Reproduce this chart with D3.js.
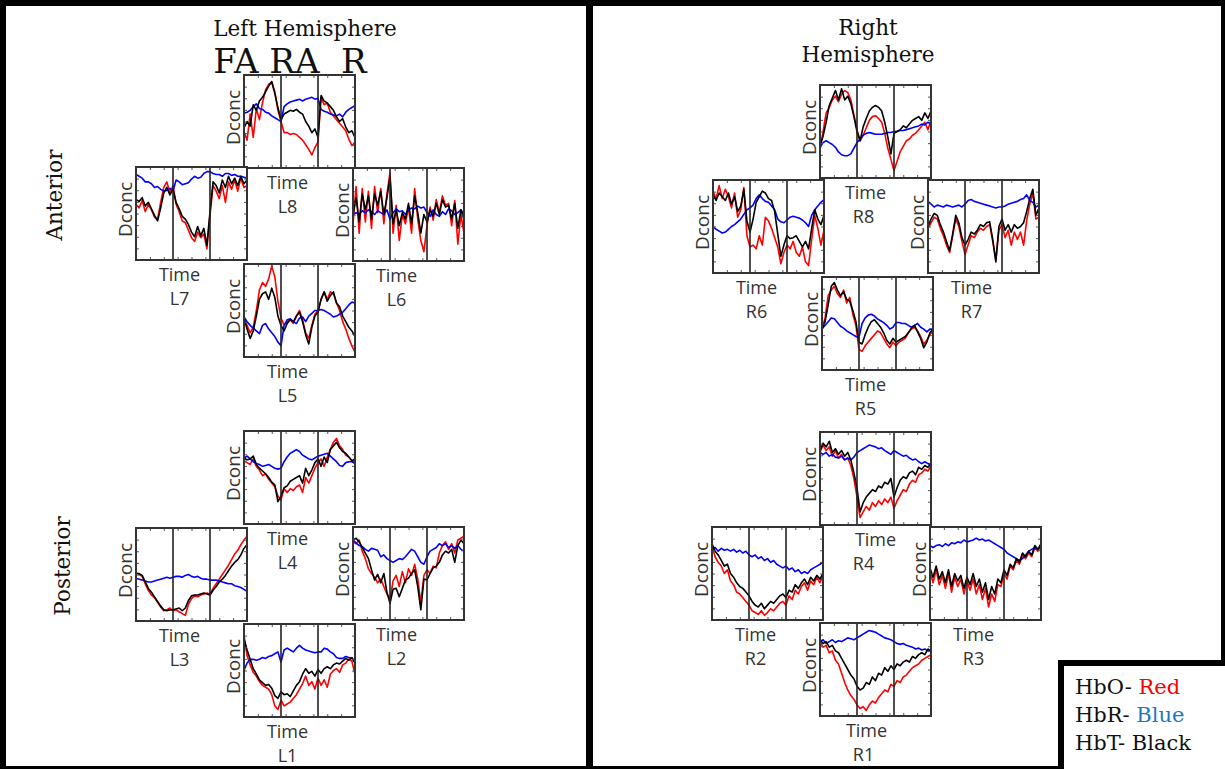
<!DOCTYPE html>
<html>
<head>
<meta charset="utf-8">
<script src="https://cdn.jsdelivr.net/npm/d3@7"></script>
<style>
  body { margin: 0; background: #fff; }
  svg { display: block; }
</style>
</head>
<body>
<div id="chart"></div>
<script>
/*
 * fNIRS channel traces, left and right hemisphere.
 * Values are read off the figure as % of panel height (0 = bottom, 100 = top),
 * 37 samples per trace; samples 12 and 24 sit on the FA / RA / R dividers.
 */
var L8_HbO = [39, 30, 58, 33, 64, 52, 70, 84, 90, 92, 82, 62, 50, 38, 38, 36, 37, 36, 33, 30, 25, 20, 14, 22, 28, 76, 68, 70, 60, 56, 52, 48, 44, 40, 31, 24, 28];
var L8_HbR = [59, 60, 62, 66, 69, 64, 63, 60, 59, 56, 54, 52, 50, 66, 69, 71, 72, 73, 74, 72, 74, 75, 76, 74, 75, 63, 61, 60, 58, 57, 56, 58, 55, 60, 63, 65, 67];
var L8_HbT = [43, 50, 45, 68, 62, 72, 76, 82, 88, 93, 80, 65, 52, 58, 60, 62, 61, 63, 60, 58, 50, 45, 38, 42, 33, 78, 72, 70, 66, 62, 55, 50, 53, 44, 38, 40, 33];

var L7_HbO = [60, 56, 64, 52, 60, 54, 46, 44, 62, 78, 84, 72, 80, 60, 52, 42, 40, 32, 24, 20, 30, 24, 28, 12, 48, 80, 74, 66, 80, 62, 84, 76, 86, 74, 88, 78, 80];
var L7_HbR = [92, 90, 88, 84, 84, 82, 78, 79, 76, 74, 75, 77, 74, 86, 84, 81, 82, 83, 87, 90, 88, 89, 93, 95, 95, 93, 92, 92, 90, 93, 93, 91, 92, 90, 90, 89, 88];
var L7_HbT = [65, 63, 67, 58, 62, 55, 48, 42, 56, 72, 78, 70, 76, 62, 55, 47, 44, 38, 30, 25, 36, 26, 34, 16, 52, 84, 80, 72, 86, 78, 90, 82, 88, 80, 90, 82, 86];

var L6_HbO = [40, 80, 30, 78, 42, 75, 35, 80, 52, 78, 40, 72, 95, 30, 60, 22, 50, 40, 58, 30, 78, 45, 22, 10, 38, 58, 44, 66, 52, 70, 60, 62, 38, 65, 18, 50, 30];
var L6_HbR = [50, 52, 50, 54, 52, 55, 53, 50, 54, 52, 50, 55, 45, 52, 56, 53, 54, 50, 55, 57, 56, 59, 57, 58, 52, 48, 55, 50, 48, 53, 50, 56, 54, 50, 52, 55, 50];
var L6_HbT = [50, 68, 42, 72, 55, 70, 45, 72, 60, 75, 50, 68, 90, 40, 55, 38, 52, 45, 62, 40, 70, 52, 30, 50, 42, 55, 48, 62, 50, 66, 58, 60, 45, 62, 35, 55, 45];

var L5_HbO = [40, 34, 26, 32, 50, 72, 80, 76, 84, 98, 86, 60, 42, 34, 38, 40, 36, 44, 50, 40, 26, 20, 34, 46, 50, 62, 70, 62, 70, 68, 58, 50, 38, 30, 20, 12, 5];
var L5_HbR = [43, 38, 34, 31, 28, 25, 34, 36, 30, 26, 22, 16, 12, 34, 40, 41, 38, 36, 42, 43, 38, 44, 47, 50, 50, 51, 50, 48, 46, 43, 44, 46, 48, 52, 56, 59, 58];
var L5_HbT = [42, 30, 20, 28, 44, 62, 68, 70, 62, 74, 64, 44, 34, 28, 36, 40, 38, 44, 48, 38, 24, 14, 32, 44, 48, 62, 70, 60, 66, 70, 58, 54, 44, 38, 32, 28, 22];

var L4_HbO = [68, 66, 64, 70, 62, 58, 52, 54, 48, 44, 40, 30, 26, 38, 34, 38, 36, 40, 42, 34, 50, 44, 52, 60, 66, 70, 62, 72, 80, 88, 92, 84, 80, 74, 72, 68, 66];
var L4_HbR = [71, 73, 70, 67, 65, 64, 62, 63, 64, 62, 60, 59, 60, 67, 72, 76, 78, 80, 78, 74, 72, 70, 69, 71, 73, 74, 75, 76, 73, 70, 67, 63, 62, 66, 67, 67, 65];
var L4_HbT = [71, 69, 70, 73, 64, 60, 57, 54, 50, 45, 42, 24, 30, 39, 41, 46, 48, 50, 52, 44, 60, 52, 58, 66, 70, 62, 72, 66, 80, 84, 88, 82, 78, 76, 72, 68, 70];

var L3_HbO = [52, 50, 48, 40, 33, 28, 25, 20, 15, 11, 12, 14, 11, 12, 10, 8, 6, 18, 24, 27, 26, 28, 29, 30, 29, 35, 40, 45, 50, 55, 60, 66, 72, 76, 82, 87, 91];
var L3_HbR = [46, 45, 44, 43, 42, 42, 43, 44, 45, 46, 47, 46, 47, 48, 48, 47, 49, 50, 48, 47, 48, 46, 45, 45, 44, 44, 44, 43, 42, 41, 40, 40, 38, 37, 36, 34, 32];
var L3_HbT = [51, 51, 49, 42, 35, 31, 26, 21, 16, 12, 11, 12, 12, 13, 14, 11, 14, 22, 27, 28, 28, 29, 30, 29, 28, 33, 37, 42, 45, 49, 54, 59, 63, 66, 71, 78, 82];

var L2_HbO = [84, 82, 86, 74, 66, 55, 50, 46, 40, 44, 36, 28, 22, 42, 48, 36, 52, 40, 55, 48, 60, 44, 18, 48, 54, 50, 58, 56, 72, 80, 84, 76, 82, 72, 86, 88, 90];
var L2_HbR = [86, 83, 80, 79, 76, 74, 77, 76, 75, 68, 70, 66, 64, 62, 64, 66, 65, 68, 72, 76, 74, 68, 62, 60, 68, 74, 76, 78, 82, 80, 82, 78, 80, 77, 80, 76, 74];
var L2_HbT = [86, 88, 84, 78, 72, 66, 54, 43, 49, 40, 50, 30, 18, 33, 34, 25, 34, 43, 45, 50, 54, 36, 11, 44, 43, 50, 56, 58, 62, 70, 74, 72, 76, 62, 80, 86, 82];

var L1_HbO = [88, 66, 56, 48, 44, 38, 34, 32, 30, 24, 12, 8, 18, 12, 14, 16, 20, 24, 30, 36, 44, 34, 38, 30, 42, 34, 40, 32, 46, 50, 52, 48, 56, 58, 62, 60, 46];
var L1_HbR = [50, 58, 62, 62, 61, 62, 64, 63, 65, 66, 68, 70, 59, 72, 74, 72, 70, 74, 77, 74, 72, 71, 70, 69, 70, 70, 74, 73, 70, 68, 64, 63, 63, 65, 64, 63, 59];
var L1_HbT = [84, 72, 62, 52, 46, 40, 37, 34, 35, 31, 23, 20, 27, 24, 25, 22, 28, 34, 38, 46, 52, 47, 49, 44, 51, 47, 52, 54, 52, 56, 58, 57, 60, 63, 61, 64, 58];

var R8_HbO = [30, 50, 70, 76, 84, 88, 82, 90, 94, 92, 84, 68, 52, 40, 46, 54, 62, 66, 67, 64, 60, 48, 32, 20, 8, 18, 28, 34, 40, 42, 46, 48, 52, 56, 60, 52, 62];
var R8_HbR = [33, 38, 40, 38, 36, 33, 28, 25, 24, 24, 26, 32, 38, 42, 46, 48, 49, 48, 47, 47, 47, 48, 49, 49, 50, 50, 51, 51, 52, 53, 54, 55, 56, 58, 57, 60, 58];
var R8_HbT = [35, 45, 60, 78, 86, 94, 84, 96, 84, 88, 80, 66, 50, 40, 55, 64, 72, 76, 78, 76, 72, 60, 44, 26, 48, 50, 52, 56, 54, 58, 62, 64, 66, 62, 70, 64, 72];

var R6_HbO = [88, 80, 94, 80, 90, 82, 70, 86, 60, 68, 92, 40, 28, 30, 26, 40, 30, 60, 56, 48, 38, 28, 10, 22, 30, 26, 34, 22, 18, 28, 12, 8, 36, 62, 48, 30, 46];
var R6_HbR = [50, 47, 45, 43, 44, 47, 50, 52, 55, 58, 63, 68, 70, 73, 80, 84, 80, 77, 76, 72, 68, 58, 55, 54, 57, 60, 61, 60, 59, 57, 54, 50, 62, 68, 72, 76, 79];
var R6_HbT = [84, 78, 86, 82, 78, 86, 74, 82, 66, 72, 90, 56, 44, 58, 76, 82, 88, 86, 80, 78, 66, 42, 18, 30, 40, 37, 38, 40, 34, 28, 34, 26, 48, 68, 58, 52, 62];

var R7_HbO = [48, 54, 60, 58, 48, 40, 30, 22, 40, 58, 50, 34, 20, 30, 40, 38, 44, 48, 46, 50, 52, 34, 14, 46, 52, 38, 46, 30, 44, 36, 44, 30, 56, 74, 86, 58, 60];
var R7_HbR = [77, 74, 71, 73, 72, 71, 73, 72, 71, 72, 73, 71, 74, 78, 79, 77, 76, 75, 74, 73, 72, 71, 70, 71, 71, 72, 74, 75, 76, 77, 79, 80, 84, 78, 76, 71, 73];
var R7_HbT = [50, 58, 64, 62, 52, 44, 34, 24, 42, 62, 54, 38, 30, 36, 44, 42, 46, 52, 50, 54, 55, 36, 12, 50, 58, 46, 52, 44, 52, 48, 50, 54, 66, 80, 90, 62, 70];

var R5_HbO = [44, 56, 80, 86, 90, 82, 78, 86, 72, 78, 60, 48, 22, 20, 26, 30, 34, 38, 42, 40, 34, 28, 24, 30, 26, 30, 32, 34, 40, 44, 46, 42, 36, 28, 32, 38, 42];
var R5_HbR = [44, 48, 52, 56, 55, 51, 47, 45, 42, 40, 38, 36, 35, 50, 56, 59, 60, 58, 55, 53, 51, 48, 44, 46, 51, 51, 50, 50, 48, 46, 48, 50, 46, 44, 41, 44, 44];
var R5_HbT = [44, 52, 70, 90, 94, 86, 80, 84, 76, 74, 64, 52, 30, 28, 38, 46, 52, 54, 50, 46, 40, 32, 28, 34, 30, 32, 34, 36, 40, 45, 48, 41, 34, 24, 30, 40, 44];

var R4_HbO = [78, 86, 80, 84, 74, 80, 72, 76, 70, 72, 64, 50, 30, 8, 14, 20, 16, 24, 20, 26, 22, 28, 24, 30, 18, 26, 32, 38, 36, 44, 48, 46, 54, 56, 60, 58, 64];
var R4_HbR = [78, 76, 78, 74, 76, 73, 72, 74, 70, 72, 70, 73, 78, 80, 82, 84, 86, 85, 84, 82, 83, 80, 78, 76, 80, 78, 76, 74, 75, 72, 70, 71, 68, 66, 68, 66, 65];
var R4_HbT = [80, 88, 84, 90, 78, 82, 76, 80, 74, 78, 70, 56, 40, 14, 24, 30, 34, 38, 36, 42, 40, 46, 44, 50, 30, 40, 48, 52, 50, 56, 58, 54, 62, 60, 64, 62, 66];

var R2_HbO = [80, 68, 62, 58, 50, 54, 42, 38, 30, 28, 24, 20, 16, 10, 8, 6, 10, 5, 8, 12, 10, 14, 18, 20, 16, 26, 22, 32, 28, 36, 40, 32, 42, 38, 46, 40, 48];
var R2_HbR = [76, 78, 74, 77, 75, 76, 74, 76, 73, 75, 72, 74, 70, 68, 70, 66, 68, 64, 66, 62, 64, 60, 58, 56, 58, 54, 56, 52, 54, 50, 52, 50, 54, 56, 58, 60, 62];
var R2_HbT = [82, 74, 70, 64, 58, 60, 50, 46, 40, 36, 34, 30, 26, 20, 16, 14, 18, 12, 16, 20, 18, 22, 26, 28, 24, 32, 30, 38, 34, 40, 44, 38, 46, 42, 48, 44, 50];

var R3_HbO = [52, 40, 54, 38, 48, 34, 50, 30, 46, 36, 44, 28, 42, 32, 44, 28, 38, 22, 34, 14, 28, 20, 38, 36, 50, 44, 58, 54, 64, 60, 70, 66, 72, 68, 78, 74, 80];
var R3_HbR = [80, 78, 80, 81, 79, 82, 80, 83, 82, 84, 83, 86, 84, 85, 86, 88, 86, 87, 85, 86, 84, 82, 80, 78, 76, 72, 70, 68, 66, 64, 66, 70, 74, 76, 78, 76, 80];
var R3_HbT = [56, 46, 58, 44, 52, 40, 54, 36, 50, 42, 48, 34, 46, 38, 50, 36, 44, 30, 40, 22, 36, 28, 44, 40, 54, 48, 60, 56, 66, 62, 72, 68, 74, 70, 80, 76, 82];

var R1_HbO = [80, 74, 76, 68, 70, 60, 56, 46, 36, 28, 22, 18, 12, 8, 10, 6, 12, 16, 14, 20, 24, 28, 26, 34, 32, 38, 36, 42, 44, 48, 52, 54, 56, 60, 62, 64, 66];
var R1_HbR = [80, 82, 78, 80, 82, 79, 81, 80, 82, 84, 83, 82, 84, 86, 88, 90, 92, 91, 90, 88, 86, 84, 83, 82, 80, 78, 77, 78, 76, 75, 74, 72, 73, 71, 72, 70, 70];
var R1_HbT = [82, 78, 80, 74, 76, 70, 68, 62, 56, 50, 44, 40, 32, 28, 30, 36, 34, 42, 38, 46, 44, 52, 48, 54, 50, 56, 54, 58, 60, 58, 64, 62, 66, 68, 66, 72, 70];

var channels = ['L8', 'L7', 'L6', 'L5', 'L4', 'L3', 'L2', 'L1', 'R8', 'R6', 'R7', 'R5', 'R4', 'R2', 'R3', 'R1'];
var series = {
  L8: [L8_HbO, L8_HbR, L8_HbT], L7: [L7_HbO, L7_HbR, L7_HbT], L6: [L6_HbO, L6_HbR, L6_HbT], L5: [L5_HbO, L5_HbR, L5_HbT],
  L4: [L4_HbO, L4_HbR, L4_HbT], L3: [L3_HbO, L3_HbR, L3_HbT], L2: [L2_HbO, L2_HbR, L2_HbT], L1: [L1_HbO, L1_HbR, L1_HbT],
  R8: [R8_HbO, R8_HbR, R8_HbT], R6: [R6_HbO, R6_HbR, R6_HbT], R7: [R7_HbO, R7_HbR, R7_HbT], R5: [R5_HbO, R5_HbR, R5_HbT],
  R4: [R4_HbO, R4_HbR, R4_HbT], R2: [R2_HbO, R2_HbR, R2_HbT], R3: [R3_HbO, R3_HbR, R3_HbT], R1: [R1_HbO, R1_HbR, R1_HbT]
};
var dividers = [12, 24]; // FA | RA | R

// panel placement on the page (plot box top-left corner, "Time" offset)
var layout = {
  L8: [244, 75, -12], L7: [136, 167, -12], L6: [353, 168, -12], L5: [244, 264, -12],
  L4: [244, 431, -12], L3: [136, 528, -12], L2: [353, 527, -12], L1: [244, 624, -12],
  R8: [820, 85, -10], R6: [713, 180, -12], R7: [928, 180, -12], R5: [822, 277, -12],
  R4: [820, 432, 0], R2: [712, 527, -12], R3: [930, 527, -12], R1: [820, 623, -9]
};

(function() {
  var width = 1225;
  var height = 769;
  var pw = 111;
  var ph = 93;
  var colors = ['#ff0000', '#0000ff', '#000000']; // HbO, HbR, HbT
  var labelFont = '"Open Sans", Lato, sans-serif';
  var serif = '"DejaVu Serif", serif';

  var svg = d3.select('#chart').append('svg')
    .attr('width', width)
    .attr('height', height);

  var x = d3.scaleLinear().domain([0, 36]).range([0, pw]);
  var y = d3.scaleLinear().domain([0, 100]).range([ph, 0]);
  var line = d3.line()
    .x(function(d, i) { return x(i); })
    .y(function(d) { return y(d); });

  svg.append('defs').append('clipPath')
    .attr('id', 'box')
    .append('rect')
    .attr('width', pw)
    .attr('height', ph);

  channels.forEach(function(name) {
    var pos = layout[name];
    var g = svg.append('g')
      .attr('transform', 'translate(' + pos[0] + ',' + pos[1] + ')');

    g.append('rect')
      .attr('width', pw)
      .attr('height', ph)
      .attr('fill', '#fff');

    var traces = g.append('g').attr('clip-path', 'url(#box)');
    [0, 1, 2].forEach(function(k) {
      traces.append('path')
        .datum(series[name][k])
        .attr('d', line)
        .attr('fill', 'none')
        .attr('stroke', colors[k])
        .attr('stroke-width', 1.6)
        .attr('stroke-linejoin', 'round');
    });

    g.selectAll('.divider')
      .data(dividers)
      .enter()
      .append('line')
      .attr('class', 'divider')
      .attr('x1', function(d) { return x(d); })
      .attr('x2', function(d) { return x(d); })
      .attr('y1', 0)
      .attr('y2', ph)
      .attr('stroke', '#222')
      .attr('stroke-width', 1.6);

    // inward minor ticks on all four sides
    var xt = d3.range(0, 36.1, 4.5);
    var yt = d3.range(0, 100.1, 12.5);
    var axes = [
      [d3.axisBottom(x).tickValues(xt), 'translate(0,' + ph + ')'],
      [d3.axisTop(x).tickValues(xt), null],
      [d3.axisLeft(y).tickValues(yt), null],
      [d3.axisRight(y).tickValues(yt), 'translate(' + pw + ',0)']
    ];
    axes.forEach(function(a) {
      var ax = g.append('g')
        .call(a[0].tickSize(-3).tickFormat(''));
      if (a[1]) ax.attr('transform', a[1]);
      ax.select('.domain').remove();
      ax.selectAll('line').attr('stroke', '#555').attr('stroke-width', 1);
    });

    g.append('rect')
      .attr('width', pw)
      .attr('height', ph)
      .attr('fill', 'none')
      .attr('stroke', '#333')
      .attr('stroke-width', 2);

    g.append('text')
      .attr('transform', 'translate(-4,' + (ph / 2 - 4) + ') rotate(-90)')
      .attr('text-anchor', 'middle')
      .attr('font-family', labelFont)
      .attr('font-size', 19)
      .attr('fill', '#333')
      .text('Dconc');

    g.append('text')
      .attr('x', pw / 2 + pos[2])
      .attr('y', ph + 21)
      .attr('text-anchor', 'middle')
      .attr('font-family', labelFont)
      .attr('font-size', 18)
      .attr('fill', '#333')
      .text('Time');

    g.append('text')
      .attr('x', pw / 2 - 12)
      .attr('y', ph + 45)
      .attr('text-anchor', 'middle')
      .attr('font-family', labelFont)
      .attr('font-size', 18)
      .attr('fill', '#333')
      .text(name);
  });

  // headings
  var titles = [
    [305, 36, 21.5, 'Left Hemisphere'],
    [290, 73, 34, 'FA RA\u00a0\u00a0R'],
    [868, 35, 21.5, 'Right'],
    [868, 62, 21.5, 'Hemisphere']
  ];
  titles.forEach(function(t) {
    svg.append('text')
      .attr('x', t[0])
      .attr('y', t[1])
      .attr('text-anchor', 'middle')
      .attr('font-family', serif)
      .attr('font-size', t[2])
      .attr('fill', '#111')
      .text(t[3]);
  });

  [['Anterior', 62, 195], ['Posterior', 70, 566]].forEach(function(t) {
    svg.append('text')
      .attr('transform', 'translate(' + t[1] + ',' + t[2] + ') rotate(-90)')
      .attr('text-anchor', 'middle')
      .attr('font-family', serif)
      .attr('font-size', 21.5)
      .attr('fill', '#111')
      .text(t[0]);
  });

  // frame
  var frame = svg.append('g').attr('fill', '#000');
  frame.append('rect').attr('x', 0).attr('y', 0).attr('width', width).attr('height', 6);
  frame.append('rect').attr('x', 0).attr('y', 0).attr('width', 6).attr('height', height);
  frame.append('rect').attr('x', 586).attr('y', 0).attr('width', 7).attr('height', height);
  frame.append('rect').attr('x', 1221).attr('y', 0).attr('width', 4).attr('height', height);
  frame.append('rect').attr('x', 0).attr('y', 766).attr('width', width).attr('height', 3);

  // legend
  var legend = svg.append('g');
  legend.append('rect').attr('x', 1058).attr('y', 660).attr('width', 167).attr('height', 109).attr('fill', '#fff');
  legend.append('rect').attr('x', 1058).attr('y', 660).attr('width', 167).attr('height', 6).attr('fill', '#000');
  legend.append('rect').attr('x', 1058).attr('y', 660).attr('width', 6).attr('height', 109).attr('fill', '#000');
  var legendItems = [['HbO- ', 'Red', '#ff0000'], ['HbR- ', 'Blue', '#1a78c2'], ['HbT- ', 'Black', '#111']];
  legendItems.forEach(function(item, i) {
    var t = legend.append('text')
      .attr('x', 1075)
      .attr('y', 694 + i * 28)
      .attr('font-family', serif)
      .attr('font-size', 21)
      .attr('fill', '#111')
      .attr('xml:space', 'preserve');
    t.append('tspan').text(item[0]);
    t.append('tspan').attr('fill', item[2]).text(item[1]);
  });
}).call(this);
</script>
</body>
</html>
